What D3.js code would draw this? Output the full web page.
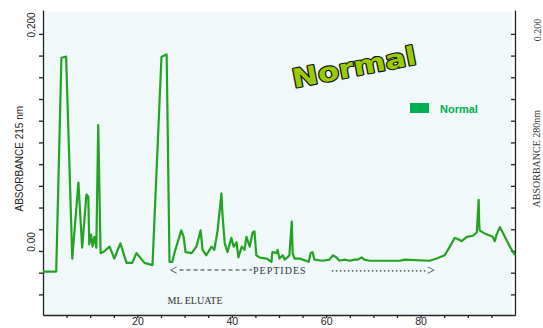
<!DOCTYPE html>
<html>
<head>
<meta charset="utf-8">
<script src="https://cdn.jsdelivr.net/npm/d3@7/dist/d3.min.js"></script>
<style>
  body { margin: 0; background: #fff; }
  svg { display: block; }
</style>
</head>
<body>
<div id="chart"></div>
<script>
// Trace: elution volume (ml) and absorbance at 215 nm
const elution = [0, 2.8, 3.9, 4.9, 6.2, 7.5, 8.3, 9.2, 9.6, 9.8, 10.2, 10.5, 10.9, 11.3, 11.7, 12.2, 12.8, 14.1, 15.1, 16.4,
  17.7, 18.9, 19.8, 21.5, 23.2, 25.1, 26.2, 26.8, 27.4, 27.9, 29.3, 29.8, 30.2, 31.5, 32.5, 33.4, 33.8, 34.6, 35.7, 36.3,
  37.0, 37.8, 38.0, 38.5, 39.1, 39.9, 40.4, 41.0, 41.4, 42.1, 42.7, 43.1, 43.8, 44.4, 44.8, 45.2, 45.9, 47.4, 48.4, 48.6,
  49.5, 49.7, 50.1, 50.8, 51.2, 51.8, 52.2, 52.7, 52.9, 53.3, 54.4, 55.0, 56.3, 56.7, 57.1, 57.5, 59.2, 60.7, 61.4, 62.2,
  62.8, 63.9, 65.0, 66.0, 66.7, 67.5, 68.1, 69.2, 72.0, 75.6, 76.6, 81.9, 83.4, 85.1, 86.2, 87.2, 87.9, 88.7, 89.8, 91.1,
  91.9, 92.3, 92.4, 92.5, 93.6, 95.3, 95.7, 96.1, 96.8, 97.4, 98.9, 100];
const absorbance = [-0.019, -0.019, 0.178, 0.179, -0.007, 0.063, 0.003, 0.052, 0.050, 0.006, 0.015, 0.004, 0.013, 0.003, 0.116, -0.002, -0.001, 0.004, -0.007, 0.007,
  -0.011, -0.011, -0.002, -0.011, -0.013, 0.179, 0.181, -0.010, -0.010, -0.001, 0.019, 0.013, -0.001, -0.002, 0.004, 0.019, 0.001, -0.004, 0.004, 0.001,
  0.019, 0.053, 0.035, 0.007, -0.001, 0.012, 0.004, 0.008, -0.006, 0.004, 0.001, 0.013, 0.004, 0.017, 0.018, -0.004, -0.006, -0.007, -0.010, -0.001,
  -0.002, 0.001, -0.007, -0.004, -0.008, -0.006, -0.004, 0.027, -0.002, -0.007, -0.007, -0.008, -0.010, -0.002, -0.001, -0.008, -0.009, -0.008, -0.004, -0.006,
  -0.009, -0.008, -0.009, -0.008, -0.008, -0.006, -0.008, -0.009, -0.009, -0.009, -0.008, -0.009, -0.007, -0.004, 0.004, 0.012, 0.011, 0.009, 0.013, 0.014,
  0.017, 0.047, 0.027, 0.019, 0.016, 0.013, 0.009, 0.015, 0.022, 0.017, 0.004, -0.004];

const seriesName = 'Normal';
const xTicks = [5, 10, 15, 20, 25, 30, 35, 40, 45, 50, 55, 60, 65, 70, 75, 80, 85, 90, 95];
const xLabels = [20, 40, 60, 80];
const yTicks = [-0.04, -0.02, 0, 0.02, 0.04, 0.06, 0.08, 0.1, 0.12, 0.14, 0.16, 0.18, 0.2];
const yLabels = [0, 0.2];
const peptideRange = [26.8, 82];
const peptideLevel = -0.0175;

const width = 543, height = 328;
const margin = { top: 10, right: 28, bottom: 13, left: 43 };

const svg = d3.select('#chart').append('svg')
  .attr('width', width)
  .attr('height', height);

const x = d3.scaleLinear().domain([0, 100]).range([margin.left, width - margin.right]);
const y = d3.scaleLinear().domain([-0.059, 0.222]).range([height - margin.bottom, margin.top]);

// plot background
svg.append('rect')
  .attr('x', x(0)).attr('y', y(0.22))
  .attr('width', x(99.3) - x(0)).attr('height', y(-0.059) - y(0.22))
  .attr('fill', '#f0f8fa');

// axes
const axisFont = 'Liberation Sans, Arial, sans-serif';

const left = svg.append('g')
  .attr('transform', `translate(${x(0)},0)`)
  .call(d3.axisLeft(y).tickValues(yTicks).tickFormat('').tickSize(4).tickSizeOuter(0));

const right = svg.append('g')
  .attr('transform', `translate(${x(100)},0)`)
  .call(d3.axisLeft(y).tickValues(yTicks).tickFormat('').tickSize(4).tickSizeOuter(0));

const bottom = svg.append('g')
  .attr('transform', `translate(0,${y(-0.059)})`)
  .call(d3.axisBottom(x).tickValues(xTicks)
    .tickFormat(d => xLabels.includes(d) ? d : '')
    .tickSize(3).tickPadding(0).tickSizeOuter(0));

[left, right, bottom].forEach(g => {
  g.selectAll('path, line').attr('stroke', '#222').attr('stroke-width', 1.3);
});
bottom.selectAll('text')
  .attr('font-family', axisFont).attr('font-size', 10.5).attr('fill', '#222');

// rotated left tick labels + title
svg.selectAll('.ylab')
  .data(yLabels)
  .enter().append('text')
  .attr('class', 'ylab')
  .attr('transform', d => `translate(35,${y(d) - 9}) rotate(-90)`)
  .attr('text-anchor', 'middle')
  .attr('font-family', axisFont).attr('font-size', 10).attr('fill', '#222')
  .text(d => d === 0 ? '0.00' : d3.format('.3f')(d));

svg.append('text')
  .attr('transform', `translate(23,${y(0.085)}) rotate(-90)`)
  .attr('text-anchor', 'middle')
  .attr('font-family', axisFont).attr('font-size', 10).attr('fill', '#222')
  .text('ABSORBANCE 215 nm');

// right side labels (serif, as on the original plot)
svg.append('text')
  .attr('transform', `translate(541,${y(0.2) - 4}) rotate(-90)`)
  .attr('text-anchor', 'middle')
  .attr('font-family', 'Liberation Serif, serif').attr('font-size', 10).attr('fill', '#333')
  .text('0.200');

svg.append('text')
  .attr('transform', `translate(540,${y(0.085)}) rotate(-90)`)
  .attr('text-anchor', 'middle')
  .attr('font-family', 'Liberation Serif, serif').attr('font-size', 10).attr('fill', '#333')
  .text('ABSORBANCE 280nm');

// the trace
const points = elution.map((v, i) => [v, absorbance[i]]);
const line = d3.line().x(d => x(d[0])).y(d => y(d[1]));

svg.append('path')
  .datum(points)
  .attr('d', line)
  .attr('fill', 'none')
  .attr('stroke', '#22a322')
  .attr('stroke-width', 2.2)
  .attr('stroke-linejoin', 'round');

// peptides arrow annotation
const ann = svg.append('g').attr('fill', '#333').attr('font-family', 'Liberation Serif, serif');
const py = y(peptideLevel);
ann.append('text')
  .attr('x', x(peptideRange[0])).attr('y', py + 5)
  .attr('font-size', 14).text('<');
ann.append('line')
  .attr('x1', x(peptideRange[0]) + 10).attr('x2', x(44.3))
  .attr('y1', py).attr('y2', py)
  .attr('stroke', '#333').attr('stroke-width', 1).attr('stroke-dasharray', '4,3');
ann.append('text')
  .attr('x', x(44.5)).attr('y', py + 4)
  .attr('font-size', 10).attr('letter-spacing', 1).text('PEPTIDES');
ann.append('line')
  .attr('x1', x(61.2)).attr('x2', x(peptideRange[1]) - 2)
  .attr('y1', py + 1).attr('y2', py + 1)
  .attr('stroke', '#333').attr('stroke-width', 1.2).attr('stroke-dasharray', '1.5,2.5');
ann.append('text')
  .attr('x', x(peptideRange[1]) - 3).attr('y', py + 5)
  .attr('font-size', 14).text('>');
ann.append('text')
  .attr('x', x(26.4)).attr('y', y(-0.049))
  .attr('font-size', 10).text('ML ELUATE');

// big slanted title
svg.append('text')
  .attr('transform', 'translate(294,88) rotate(-11)')
  .attr('font-family', 'DejaVu Sans, sans-serif')
  .attr('font-weight', 'bold').attr('font-size', 26)
  .attr('textLength', 126).attr('lengthAdjust', 'spacingAndGlyphs')
  .attr('fill', '#99cc00').attr('stroke', '#111').attr('stroke-width', 2.2)
  .attr('stroke-linejoin', 'round')
  .attr('paint-order', 'stroke')
  .text(seriesName);

// legend
const legend = svg.append('g').attr('transform', 'translate(410,103)');
legend.append('rect')
  .attr('width', 19).attr('height', 10)
  .attr('fill', '#00b050');
legend.append('text')
  .attr('x', 30).attr('y', 10)
  .attr('font-family', 'Liberation Sans Narrow, Liberation Sans, sans-serif')
  .attr('font-weight', 'bold').attr('font-size', 11)
  .attr('fill', '#00b050')
  .text(seriesName);
</script>
</body>
</html>
